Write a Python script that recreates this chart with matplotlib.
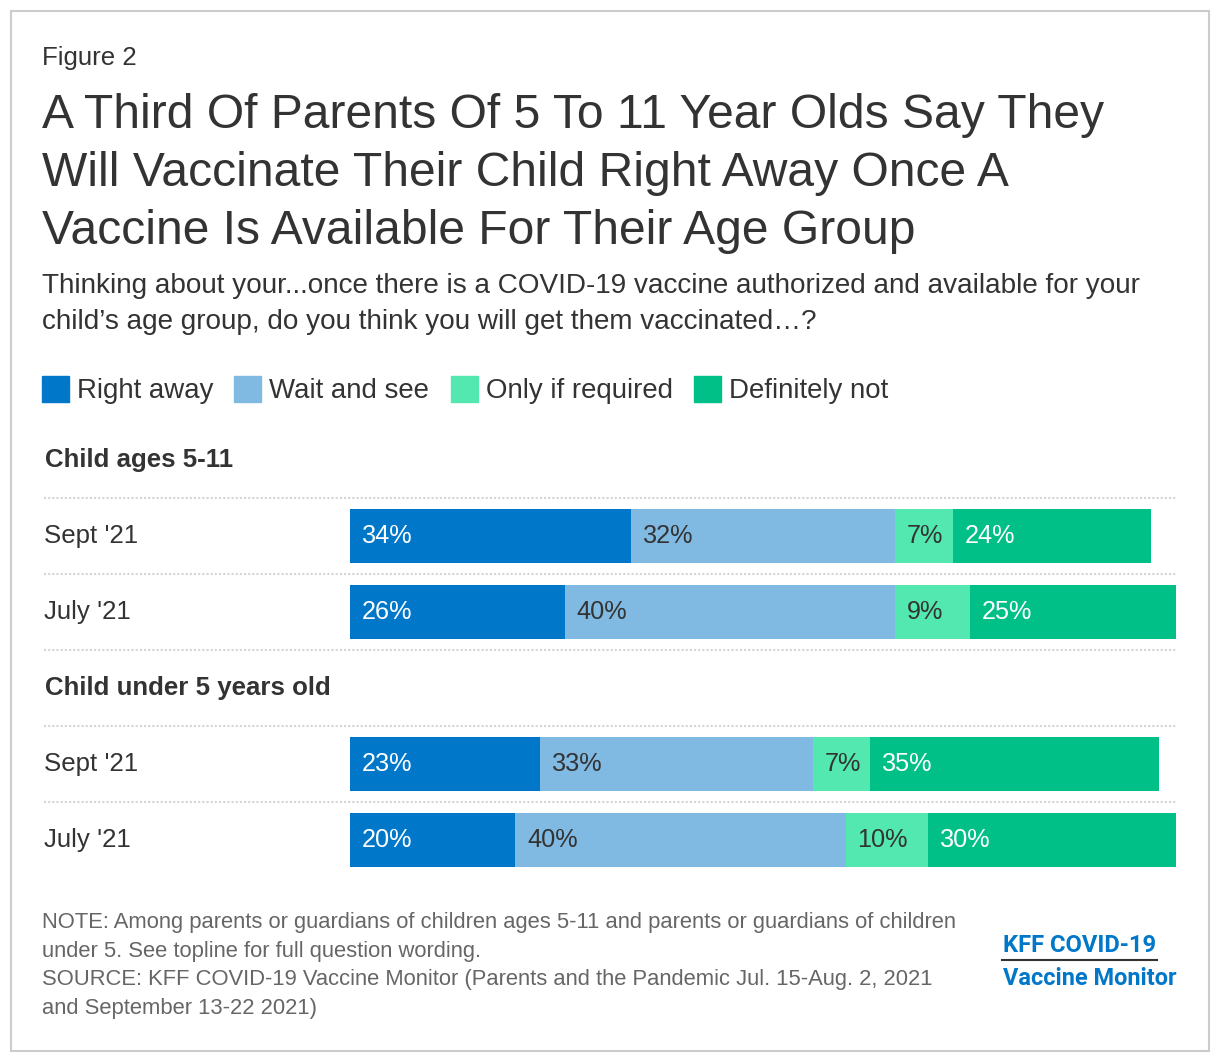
import matplotlib.pyplot as plt
from matplotlib.patches import Rectangle
from matplotlib.lines import Line2D

plt.rcParams['font.family'] = ['Liberation Sans', 'DejaVu Sans']

# data
groups = ["Child ages 5-11", "Child under 5 years old"]
periods = ["Sept '21", "July '21"]
series = ["Right away", "Wait and see", "Only if required", "Definitely not"]
right_away = [34, 26, 23, 20]
wait_see = [32, 40, 33, 40]
only_if = [7, 9, 7, 10]
def_not = [24, 25, 35, 30]

colors = ["#0077C8", "#80BAE2", "#52E8B0", "#00BF87"]
label_colors = ["white", "#333333", "#333333", "white"]
dark = "#333333"

W, H = 1220, 1062
fig = plt.figure(figsize=(W / 100, H / 100), dpi=100)


def fx(x):
    return x / W


def fy(y):
    return 1 - y / H


# outer frame
fig.patches.append(Rectangle((fx(11), fy(1051)), fx(1198), (1040) / H,
                             transform=fig.transFigure, fill=False,
                             edgecolor="#cccccc", linewidth=1.5))

fig.text(fx(42), fy(65), "Figure 2", fontsize=18.6, color=dark, va="baseline")
title_lines = ["A Third Of Parents Of 5 To 11 Year Olds Say They",
               "Will Vaccinate Their Child Right Away Once A",
               "Vaccine Is Available For Their Age Group"]
for i, line in enumerate(title_lines):
    fig.text(fx(42), fy(128 + 58 * i), line, fontsize=34.6, color=dark, va="baseline")
sub_lines = ["Thinking about your...once there is a COVID-19 vaccine authorized and available for your",
             "child\u2019s age group, do you think you will get them vaccinated\u2026?"]
for i, line in enumerate(sub_lines):
    fig.text(fx(42), fy(293 + 36 * i), line, fontsize=20.1, color=dark, va="baseline")

# legend
sq_x = [42, 234, 451, 694]
for name, col, x in zip(series, colors, sq_x):
    fig.patches.append(Rectangle((fx(x), fy(402)), 27 / W, 26 / H,
                                 transform=fig.transFigure, color=col))
    fig.text(fx(x + 35), fy(398), name, fontsize=19.9, color=dark, va="baseline")

# bars
ax = fig.add_axes([fx(350), fy(878), (1176 - 350) / W, (878 - 422) / H])
ax.set_xlim(0, 100)
ax.set_ylim(5.5, -0.5)
ax.axis("off")

rows = [1, 2, 4, 5]
header_rows = [0, 3]
values = [right_away, wait_see, only_if, def_not]
x_lab = (44 - 350) / 826

left = [0] * len(rows)
for vals, col, tcol in zip(values, colors, label_colors):
    ax.barh(rows, vals, left=left, height=0.71, color=col, linewidth=0)
    for r, v, l in zip(rows, vals, left):
        ax.annotate(f"{v}%", (l, r), xytext=(8.6, 0), textcoords="offset points",
                    va="center", ha="left", fontsize=18.2, color=tcol)
    left = [a + b for a, b in zip(left, vals)]

for g, r in zip(groups, header_rows):
    ax.text(x_lab + 0.001, r, g, transform=ax.get_yaxis_transform(),
            fontsize=18.6, fontweight="bold", color=dark, va="center")
for i, r in enumerate(rows):
    ax.text(x_lab, r, periods[i % 2], transform=ax.get_yaxis_transform(),
            fontsize=18.6, color=dark, va="center")

for y in [0.5, 1.5, 2.5, 3.5, 4.5]:
    ax.plot([x_lab, 1], [y, y], transform=ax.get_yaxis_transform(), clip_on=False,
            color="#d4d4d4", linewidth=1.5, linestyle=(0, (1, 1)))

# notes
notes = ["NOTE: Among parents or guardians of children ages 5-11 and parents or guardians of children",
         "under 5. See topline for full question wording.",
         "SOURCE: KFF COVID-19 Vaccine Monitor (Parents and the Pandemic Jul. 15-Aug. 2, 2021",
         "and September 13-22 2021)"]
for i, line in enumerate(notes):
    fig.text(fx(42), fy(928 + 28.7 * i), line, fontsize=15.8, color="#666666", va="baseline")

# logo
kff_blue = "#0077C8"
fig.text(fx(1003), fy(952), "KFF COVID-19", fontsize=17.1, fontweight="bold",
         color=kff_blue, va="baseline", family="Roboto")
fig.text(fx(1003), fy(985), "Vaccine Monitor", fontsize=16.9, fontweight="bold",
         color=kff_blue, va="baseline", family="Roboto")
fig.lines.append(Line2D([fx(1002), fx(1157)], [fy(960), fy(960)],
                        transform=fig.transFigure, color=dark, linewidth=1.5))

fig.savefig("out.png", dpi=100, facecolor="white")
